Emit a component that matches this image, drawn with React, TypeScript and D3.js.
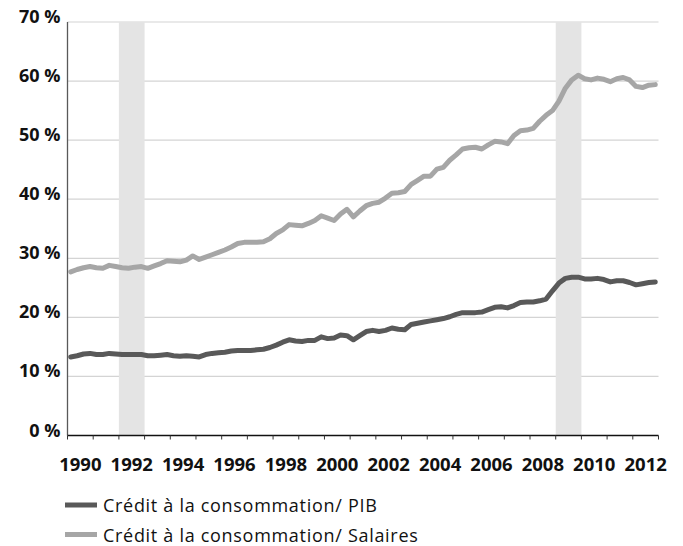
import React from 'react';
import { scaleLinear, line, range } from 'd3';

// quarterly ratios, 1990 Q1 -> 2012 Q4
const creditPib = [
  13.3, 13.5, 13.8, 13.9, 13.7, 13.7, 13.9, 13.8, 13.7, 13.7, 13.7, 13.7,
  13.5, 13.5, 13.6, 13.7, 13.5, 13.4, 13.5, 13.4, 13.3, 13.7, 13.9, 14.0,
  14.1, 14.3, 14.4, 14.4, 14.4, 14.5, 14.6, 14.9, 15.3, 15.8, 16.2, 16.0,
  15.9, 16.1, 16.1, 16.7, 16.4, 16.5, 17.0, 16.9, 16.2, 16.9, 17.6, 17.8,
  17.6, 17.8, 18.2, 18.0, 17.9, 18.8, 19.0, 19.2, 19.4, 19.6, 19.8, 20.1,
  20.5, 20.8, 20.8, 20.8, 20.9, 21.3, 21.7, 21.8, 21.6, 22.0, 22.5, 22.6,
  22.6, 22.8, 23.1, 24.5, 25.8, 26.6, 26.8, 26.8, 26.5, 26.5, 26.6, 26.4,
  26.0, 26.2, 26.2, 25.9, 25.5, 25.7, 25.9, 26.0,
];
const creditSalaires = [
  27.7, 28.1, 28.4, 28.6, 28.4, 28.3, 28.8, 28.6, 28.4, 28.3, 28.5, 28.6,
  28.3, 28.7, 29.1, 29.6, 29.5, 29.4, 29.7, 30.4, 29.8, 30.2, 30.6, 31.0,
  31.4, 31.9, 32.5, 32.7, 32.7, 32.7, 32.8, 33.3, 34.2, 34.8, 35.7, 35.6,
  35.5, 35.9, 36.4, 37.2, 36.8, 36.4, 37.5, 38.3, 37.0, 38.0, 38.9, 39.3,
  39.5, 40.2, 41.0, 41.1, 41.3, 42.5, 43.2, 43.9, 43.9, 45.1, 45.4, 46.6,
  47.5, 48.5, 48.7, 48.8, 48.5, 49.2, 49.8, 49.7, 49.4, 50.8, 51.6, 51.7,
  52.0, 53.2, 54.2, 55.0, 56.6, 58.8, 60.2, 61.0, 60.4, 60.2, 60.5, 60.3,
  59.9, 60.4, 60.6, 60.2, 59.1, 58.9, 59.3, 59.4,
];
const firstYear = 1990;
const lastYear = 2012;
const yTicks = [0, 10, 20, 30, 40, 50, 60, 70];
const recessions = [[1992, 1993], [2009, 2010]];
const seriesNames = ['Crédit à la consommation/ PIB', 'Crédit à la consommation/ Salaires'];

const font = '"Open Sans", "DejaVu Sans", sans-serif';

export default function App() {
  const width = 683;
  const height = 546;
  const left = 67.5;
  const right = 658.5;
  const top = 22;
  const bottom = 435.5;

  const x = scaleLinear().domain([firstYear, lastYear + 1]).range([left, right]);
  const y = scaleLinear().domain([0, 70]).range([bottom, top]);

  const toPoints = (vals: number[]) => vals.map((v, i) => [firstYear + (i + 0.5) / 4, v] as [number, number]);
  const path = line<[number, number]>().x(d => x(d[0])).y(d => y(d[1]));

  const years = range(firstYear, lastYear + 2);
  const labelYears = range(firstYear, lastYear + 1, 2);
  const series = [
    { name: seriesNames[0], values: creditPib, color: '#595959' },
    { name: seriesNames[1], values: creditSalaires, color: '#a6a6a6' },
  ];

  return (
    <svg width={width} height={height} style={{ position: 'absolute', left: 0, top: 0, background: '#fff' }}>
      {/* grid */}
      {yTicks.filter(t => t > 0).map(t => (
        <line key={t} x1={left} x2={right} y1={y(t)} y2={y(t)} stroke="#d4d4d4" strokeWidth={1.2} />
      ))}
      {/* recession bands, drawn over the grid */}
      {recessions.map(([a, b]) => (
        <rect key={a} x={x(a)} y={top} width={x(b) - x(a)} height={bottom - top} fill="#e4e4e4" />
      ))}
      {/* y axis */}
      <line x1={left} x2={left} y1={top} y2={bottom} stroke="#595959" strokeWidth={1.3} />
      {yTicks.map(t => (
        <text key={t} x={60.5} y={y(t) + 1} textAnchor="end" fontFamily={font} fontWeight={700} fontSize={18}
          fill="#111">{t} %</text>
      ))}
      {/* x axis */}
      <line x1={left} x2={right} y1={bottom} y2={bottom} stroke="#111" strokeWidth={1.3} />
      {years.map(yr => (
        <line key={yr} x1={x(yr)} x2={x(yr)} y1={bottom} y2={bottom + 4} stroke="#333" strokeWidth={1} />
      ))}
      {labelYears.map(yr => (
        <text key={yr} x={x(yr + 0.5)} y={470.5} textAnchor="middle" fontFamily={font} fontWeight={700}
          fontSize={18.5} fill="#111">{yr}</text>
      ))}
      {/* series */}
      {series.map(s => (
        <path key={s.name} d={path(toPoints(s.values)) || ''} fill="none" stroke={s.color} strokeWidth={5}
          strokeLinejoin="round" strokeLinecap="round" />
      ))}
      {/* legend */}
      {series.map((s, i) => (
        <g key={s.name} transform={`translate(65,${505 + i * 29.5})`}>
          <line x1={0} x2={32} y1={0} y2={0} stroke={s.color} strokeWidth={5} />
          <text x={38} y={7} fontFamily={font} fontSize={18} letterSpacing={0.7} fill="#111">{s.name}</text>
        </g>
      ))}
    </svg>
  );
}
